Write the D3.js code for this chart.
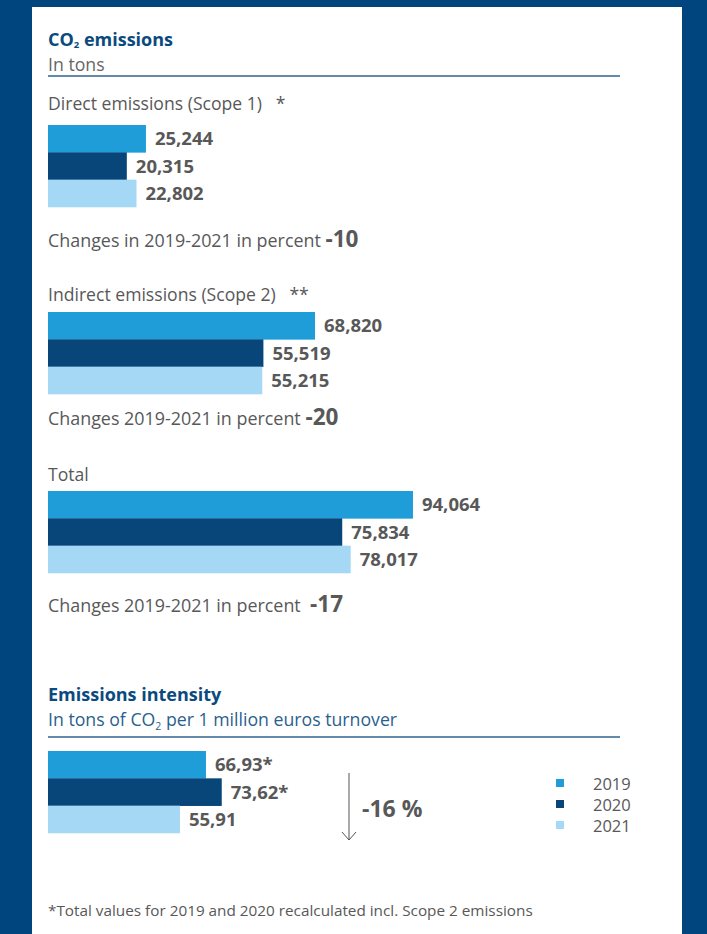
<!DOCTYPE html>
<html lang="en">
<head>
<meta charset="UTF-8">
<title>CO2 emissions</title>
<script src="https://d3js.org/d3.v7.min.js"></script>
<style>
  body { margin: 0; background: #00457e; }
  svg { display: block; font-family: "Open Sans", "Noto Sans", sans-serif; }
</style>
</head>
<body>
<svg width="707" height="934"></svg>
<script>
var years = ["2019", "2020", "2021"];
var directEmissions = [25244, 20315, 22802];
var indirectEmissions = [68820, 55519, 55215];
var totalEmissions = [94064, 75834, 78017];
var intensity = [66.93, 73.62, 55.91];
var intensityStars = ["*", "*", ""];
var changes = [-10, -20, -17];
var intensityChange = -16;

var colors = ["#1e9dd8", "#08467a", "#a5d8f5"];
var grey = "#585858";
var blue = "#0b4a7e";
var nb = "\u00a0";

var svg = d3.select("svg");
var left = 48;

// white card
svg.append("rect").attr("x", 32).attr("y", 7).attr("width", 650).attr("height", 940).attr("fill", "#fff");

var g = svg.append("g");

var x = d3.scaleLinear().domain([0, 100000]).range([0, 388]);
var xi = d3.scaleLinear().domain([0, 100]).range([0, 236]);
var band = d3.scaleBand().domain(years).range([0, 82]);
var fmt = d3.format(",");
var fmtDe = d3.formatLocale({decimal: ",", thousands: ".", grouping: [3], currency: ["", "€"]}).format(".2f");

function heading(y, text, sub, rule) {
  var t = g.append("text").attr("x", left).attr("y", y).attr("fill", blue)
    .attr("font-size", 18).attr("font-weight", 700);
  t.append("tspan").text(text[0]);
  if (text.length > 1) {
    t.append("tspan").attr("font-size", 9.5).attr("dy", 2).text(text[1]);
    t.append("tspan").attr("dy", -2).text(text[2]);
  }
  var s = g.append("text").attr("x", left).attr("y", y + 25).attr("fill", sub.color)
    .attr("font-size", 17.7);
  s.append("tspan").text(sub.parts[0]);
  if (sub.parts.length > 1) {
    s.append("tspan").attr("font-size", 10.5).attr("dy", 4).text(sub.parts[1]);
    s.append("tspan").attr("dy", -4).text(sub.parts[2]);
  }
  g.append("line").attr("x1", left).attr("x2", 620).attr("y1", rule).attr("y2", rule)
    .attr("stroke", "#2f628f").attr("stroke-width", 1.5);
}

function bars(top, values, scale, labels) {
  var bg = g.append("g").attr("transform", "translate(" + left + "," + top + ")");
  bg.selectAll("rect").data(values).join("rect")
    .attr("x", 0)
    .attr("y", (d, i) => band(years[i]))
    .attr("width", d => scale(d))
    .attr("height", band.bandwidth() + 0.3)
    .attr("fill", (d, i) => colors[i]);
  bg.selectAll("text").data(values).join("text")
    .attr("x", d => scale(d) + 9)
    .attr("y", (d, i) => band(years[i]) + band.bandwidth() / 2 + 6.5)
    .attr("fill", grey).attr("font-size", 18.5).attr("font-weight", 700)
    .text((d, i) => labels(d, i));
}

function label(y, text) {
  g.append("text").attr("x", left).attr("y", y).attr("fill", grey).attr("font-size", 17.6).text(text);
}

function change(y, text, val) {
  var t = g.append("text").attr("x", left).attr("y", y).attr("fill", grey).attr("font-size", 17.9);
  t.append("tspan").text(text);
  t.append("tspan").attr("font-size", 22.5).attr("font-weight", 700).text(val);
}

heading(46, ["CO", "2", " emissions"], {parts: ["In tons"], color: "#666"}, 76);

label(110, "Direct emissions (Scope 1)" + nb + nb + " *");
bars(125, directEmissions, x, d => fmt(d));
change(247, "Changes in 2019-2021 in percent ", changes[0]);

label(301, "Indirect emissions (Scope 2)" + nb + nb + " **");
bars(312, indirectEmissions, x, d => fmt(d));
change(425, "Changes 2019-2021 in percent ", changes[1]);

label(481, "Total");
bars(491, totalEmissions, x, d => fmt(d));
change(612, "Changes 2019-2021 in percent" + nb + nb, changes[2]);

heading(701, ["Emissions intensity"], {parts: ["In tons of CO", "2", " per 1 million euros turnover"], color: "#2a5f8e"}, 737);

bars(751, intensity, xi, (d, i) => fmtDe(d) + intensityStars[i]);

// arrow
var ax = 349;
g.append("line").attr("x1", ax).attr("x2", ax).attr("y1", 773).attr("y2", 840)
  .attr("stroke", "#555").attr("stroke-width", 1);
g.append("path").attr("d", "M" + (ax - 7) + ",832L" + ax + ",840L" + (ax + 7) + ",832")
  .attr("fill", "none").attr("stroke", "#555").attr("stroke-width", 1);
g.append("text").attr("x", 362).attr("y", 817).attr("fill", grey)
  .attr("font-size", 23).attr("font-weight", 700).text(intensityChange + nb + "%");

// legend
var legend = g.append("g").attr("transform", "translate(556,779)");
var ly = d3.scaleBand().domain(years).range([0, 63]);
legend.selectAll("rect").data(years).join("rect")
  .attr("x", 0).attr("y", d => ly(d)).attr("width", 8).attr("height", 8)
  .attr("fill", (d, i) => colors[i]);
legend.selectAll("text").data(years).join("text")
  .attr("x", 37).attr("y", d => ly(d) + 10.5).attr("fill", grey).attr("font-size", 16.5)
  .text(d => d);

g.append("text").attr("x", left).attr("y", 916).attr("fill", grey).attr("font-size", 15.3)
  .text("*Total values for 2019 and 2020 recalculated incl. Scope 2 emissions");
</script>
</body>
</html>
